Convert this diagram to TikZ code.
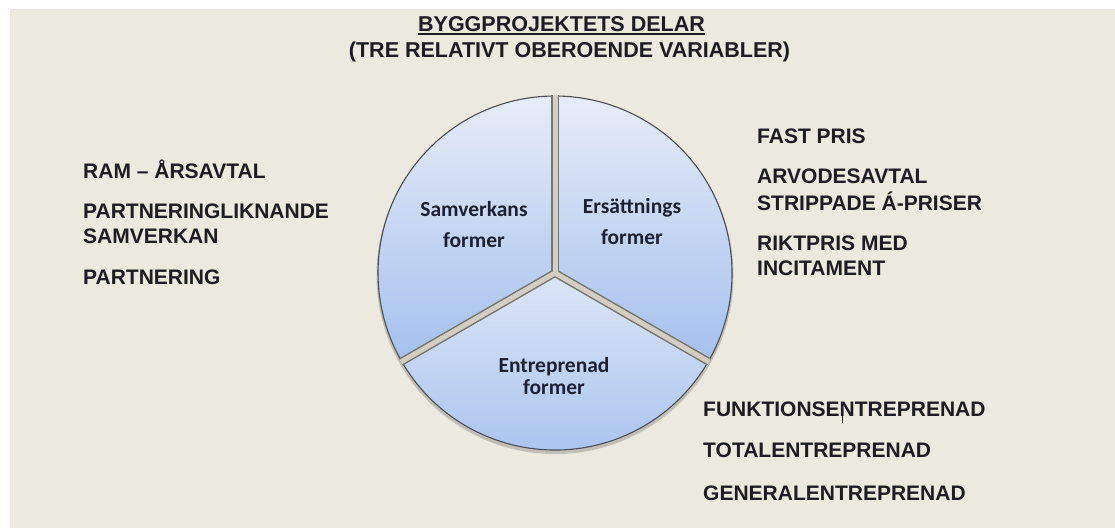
\documentclass[tikz,border=0pt]{standalone}
\usepackage{fontspec}
\setmainfont{Liberation Sans}
\newfontfamily\calib{Carlito}
\definecolor{paper}{HTML}{ECE9DF}
\definecolor{ink}{HTML}{1C1C22}
\definecolor{navy}{HTML}{1B2133}
\definecolor{pieLight}{HTML}{E6ECF8}
\definecolor{pieBlue}{HTML}{A5C0EE}
\definecolor{gapEdge}{HTML}{77756E}
\definecolor{gapFill}{HTML}{D2CEC1}
\definecolor{rimLine}{HTML}{4C4D55}
\begin{document}
\begin{tikzpicture}[x=1pt,y=-1pt,
  listtext/.style={inner sep=0pt,anchor=base west,text=ink,
    font=\fontsize{21}{25.5}\selectfont\bfseries},
  titletext/.style={inner sep=0pt,anchor=base,text=ink,
    font=\fontsize{21.5}{25}\selectfont\bfseries},
  slicelabel/.style={inner sep=0pt,anchor=base,text=navy,
    font=\calib\fontsize{21.5}{24}\selectfont\bfseries},
  slice/.style={top color=pieLight,bottom color=pieBlue,draw=rimLine,line width=1.1pt},
  gapouter/.style={draw=gapEdge,line width=8pt},
  gapinner/.style={draw=gapFill,line width=5pt},
]
\useasboundingbox (0,0) rectangle (1115,528);
\fill[white] (0,0) rectangle (1115,528);
\fill[paper] (10,9) rectangle (1115,528);

% title
\node[titletext] (title) at (561.5,31) {BYGGPROJEKTETS DELAR};
\draw[ink,line width=1.3pt] ([yshift=-3pt]title.base west) -- ([yshift=-3pt]title.base east);
\node[titletext] (subtitle) at (569.5,57) {(TRE RELATIVT OBEROENDE VARIABLER)};

% pie chart
\coordinate (C) at (555,273);
\fill[black,opacity=0.18] (555,275.5) circle[radius=178.5pt];
\path[slice] (C) -- ++(90:177pt) arc[start angle=90,end angle=210,radius=177pt] -- cycle;
\path[slice] (C) -- ++(-30:177pt) arc[start angle=-30,end angle=90,radius=177pt] -- cycle;
\path[slice,top color=pieLight!85!pieBlue] (C) -- ++(210:177pt) arc[start angle=210,end angle=330,radius=177pt] -- cycle;
\path (C) ++(90:178pt) coordinate (Dup);
\path (C) ++(210:178pt) coordinate (Dleft);
\path (C) ++(330:178pt) coordinate (Dright);
\draw[gapouter] (C) -- (Dup);
\draw[gapouter] (C) -- (Dleft);
\draw[gapouter] (C) -- (Dright);
\draw[gapinner] (C) -- (Dup);
\draw[gapinner] (C) -- (Dleft);
\draw[gapinner] (C) -- (Dright);

\node[slicelabel] (samv) at (474,216) {Samverkans};
\node[slicelabel] (samvb) at (474,247.5) {former};
\node[slicelabel] (ersa) at (632,213) {Ersättnings};
\node[slicelabel] (ersab) at (632,244) {former};
\node[slicelabel] (entr) at (554,372.5) {Entreprenad};
\node[slicelabel] (entrb) at (554,394) {former};

% cooperation forms
\node[listtext] (ram) at (83,178) {RAM – ÅRSAVTAL};
\node[listtext] (plik) at (83,218.3) {PARTNERINGLIKNANDE};
\node[listtext] (plikb) at (83,243.3) {SAMVERKAN};
\node[listtext] (part) at (83,284) {PARTNERING};

% remuneration forms
\node[listtext] (fast) at (757,143.3) {FAST PRIS};
\node[listtext] (arvo) at (757,183.3) {ARVODESAVTAL};
\node[listtext] (arvob) at (757,210.5) {STRIPPADE Á-PRISER};
\node[listtext] (rikt) at (757,250) {RIKTPRIS MED};
\node[listtext] (riktb) at (757,275) {INCITAMENT};

% contract forms
\node[listtext] (funk) at (703,416.7) {FUNKTIONSENTREPRENAD};
\node[listtext] (total) at (703,457.3) {TOTALENTREPRENAD};
\node[listtext] (gen) at (703,500) {GENERALENTREPRENAD};
\draw[ink,line width=1pt] (842.7,408) -- (842.7,423);
\end{tikzpicture}
\end{document}
